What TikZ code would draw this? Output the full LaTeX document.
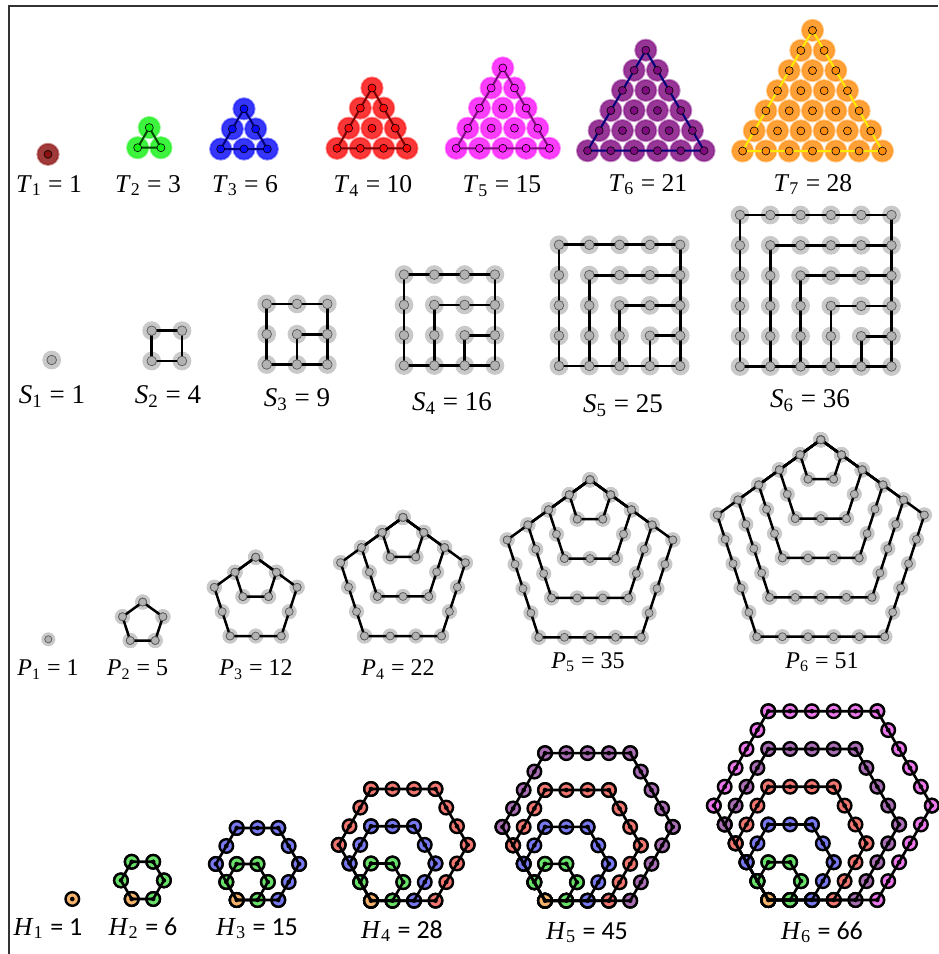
\documentclass[tikz,border=0pt]{standalone}
\usepackage{fontspec}
\setmainfont{Liberation Serif}
\newfontfamily\carlito{Carlito}
\definecolor{tmaroon}{RGB}{139,16,16}
\definecolor{tlime}{RGB}{20,240,20}
\definecolor{tforest}{RGB}{0,70,0}
\definecolor{tblue}{RGB}{10,10,250}
\definecolor{tnavy}{RGB}{0,0,120}
\definecolor{tred}{RGB}{250,10,10}
\definecolor{tdkred}{RGB}{120,0,0}
\definecolor{tmagenta}{RGB}{250,20,250}
\definecolor{tpurple}{RGB}{128,10,128}
\definecolor{torange}{RGB}{255,140,10}
\definecolor{tyellow}{RGB}{255,235,0}
\definecolor{hcA}{RGB}{244,178,106}
\definecolor{hcB}{RGB}{104,226,104}
\definecolor{hcC}{RGB}{120,120,240}
\definecolor{hcD}{RGB}{242,118,112}
\definecolor{hcE}{RGB}{170,110,180}
\definecolor{hcF}{RGB}{236,118,236}

\tikzset{
  tdisk/.style={fill=#1, fill opacity=0.82, draw=#1, draw opacity=0.45, line width=1pt},
  tdot/.style={fill=#1, draw=black, line width=0.3pt},
  tline/.style={draw=#1, line width=1pt},
  halo/.style={fill=black!21},
  gdot/.style={fill=black!30, draw=black!65, line width=0.35pt},
  gline/.style={draw=black, line width=1.4pt},
  hdot/.style={fill=#1, draw=black, line width=1.2pt},
  hline/.style={draw=black, line width=1.3pt},
  tlabel/.style={anchor=base, font=\fontsize{12.8}{15}\selectfont},
  slabel/.style={anchor=base, font=\fontsize{13.5}{16}\selectfont},
  plabel/.style={anchor=base, font=\fontsize{12}{14}\selectfont},
  hlabel/.style={anchor=base, font=\fontsize{13}{15}\selectfont},
}

% rows, centre x, bottom y, dot colour, edge colour
\newcommand{\figtri}[5]{%
  \foreach \r in {1,...,#1}
    \foreach \j in {1,...,\r}
      \path[tdisk=#4] ({#2+(\j-(\r+1)/2)*23.3},{#3-(#1-\r)*20.1}) circle (5.3pt);
  \ifnum#1>1
    \draw[tline=#5] ({#2-(#1-1)*11.65},#3) -- ({#2+(#1-1)*11.65},#3)
      -- (#2,{#3-(#1-1)*20.1}) -- cycle;
  \fi
  \foreach \r in {1,...,#1}
    \foreach \j in {1,...,\r}
      \path[tdot=#4] ({#2+(\j-(\r+1)/2)*23.3},{#3-(#1-\r)*20.1}) circle (2pt);
}

% side, left x, bottom y
\newcommand{\figsq}[3]{%
  \foreach \i in {1,...,#1}
    \foreach \j in {1,...,#1}
      \fill[halo] ({#2+(\i-1)*30.3},{#3-(#1-\j)*30.3}) circle (4.7pt);
  \ifnum#1>1
    \foreach \k in {1,...,#1}
      \draw[gline] ({#2+(#1-1)*30.3},{#3-(#1-\k)*30.3}) -| ({#2+(\k-1)*30.3},#3);
    \draw[gline] ({#2+(#1-1)*30.3},{#3-(#1-1)*30.3}) -- ({#2+(#1-1)*30.3},#3) -- (#2,#3);
  \fi
  \foreach \i in {1,...,#1}
    \foreach \j in {1,...,#1}
      \path[gdot] ({#2+(\i-1)*30.3},{#3-(#1-\j)*30.3}) circle (2.4pt);
}

% n, centre x, bottom y, spacing
\newcommand{\figpent}[4]{%
  \ifnum#1>1
    \pgfmathsetmacro\ptop{#3-1.5388*(#1-1)*#4}
    \pgfmathtruncatemacro\pmax{#1-1}
    \foreach \k in {1,...,\pmax}
      \foreach \vx/\vy/\dx/\dy in {0/0/0.809/0.5878, 0.809/0.5878/-0.309/0.951,
          0.5/1.5388/-1/0, -0.5/1.5388/-0.309/-0.951, -0.809/0.5878/0.809/-0.5878}
        \foreach \j in {0,...,\k}
          \fill[halo] ({#2+((\vx)*\k+(\dx)*\j)*#4},{\ptop+((\vy)*\k+(\dy)*\j)*#4}) circle (3.8pt);
    \foreach \k in {1,...,\pmax}
      \draw[gline, line width=1.25pt] (#2,\ptop) -- ++({0.809*\k*#4},{0.5878*\k*#4})
        -- ++({-0.309*\k*#4},{0.951*\k*#4}) -- ++({-\k*#4},0)
        -- ++({-0.309*\k*#4},{-0.951*\k*#4}) -- cycle;
    \foreach \k in {1,...,\pmax}
      \foreach \vx/\vy/\dx/\dy in {0/0/0.809/0.5878, 0.809/0.5878/-0.309/0.951,
          0.5/1.5388/-1/0, -0.5/1.5388/-0.309/-0.951, -0.809/0.5878/0.809/-0.5878}
        \foreach \j in {0,...,\k}
          \path[gdot] ({#2+((\vx)*\k+(\dx)*\j)*#4},{\ptop+((\vy)*\k+(\dy)*\j)*#4}) circle (2pt);
  \else
    \fill[halo] (#2,#3) circle (3.5pt);
    \path[gdot] (#2,#3) circle (1.8pt);
  \fi
}

% n, corner x, corner y, spacing
\newcommand{\fighex}[4]{%
  \ifnum#1>1
    \pgfmathtruncatemacro\hmax{#1-1}
    \foreach \i in {1,...,\hmax}{
      \pgfmathtruncatemacro\hk{#1-\i}
      \edef\hcol{hc\ifcase\hk A\or B\or C\or D\or E\or F\fi}
      \foreach \vx/\vy/\dx/\dy in {0/0/1/0, 1/0/0.5/-0.866, 1.5/-0.866/-0.5/-0.866,
          1/-1.732/-1/0, 0/-1.732/-0.5/0.866, -0.5/-0.866/0.5/0.866}
        \foreach \j in {0,...,\hk}{
          \path[hdot=\hcol] ({#2+((\vx)*\hk+(\dx)*\j)*#4},{#3+((\vy)*\hk+(\dy)*\j)*#4}) circle (3.4pt);
          \fill ({#2+((\vx)*\hk+(\dx)*\j)*#4},{#3+((\vy)*\hk+(\dy)*\j)*#4}) circle (1.15pt);
        }
    }
  \fi
  \path[hdot=hcA] (#2,#3) circle (3.4pt);
  \fill (#2,#3) circle (1.15pt);
  \ifnum#1>1
    \foreach \k in {1,...,\hmax}
      \draw[hline] (#2,#3) -- ++({\k*#4},0) -- ++({0.5*\k*#4},{-0.866*\k*#4})
        -- ++({-0.5*\k*#4},{-0.866*\k*#4}) -- ++({-\k*#4},0)
        -- ++({-0.5*\k*#4},{0.866*\k*#4}) -- cycle;
  \fi
}

\begin{document}
\begin{tikzpicture}[x=0.5pt,y=-0.5pt]
\useasboundingbox (0,0) rectangle (938,954);
\draw[line width=1pt,black!80] (9,954) -- (9,5.5) -- (938,5.5);

\figtri{1}{48}{154.3}{tmaroon}{tmaroon}
\figtri{2}{149.3}{147.7}{tlime}{tforest}
\figtri{3}{244}{149}{tblue}{tnavy}
\figtri{4}{372}{148.3}{tred}{tdkred}
\figtri{5}{502.8}{148.3}{tmagenta}{tpurple}
\figtri{6}{645.8}{150.7}{tpurple}{tnavy}
\figtri{7}{812.5}{151}{torange}{tyellow}
\node[tlabel] (t1) at (49,192) {\textit{T}\textsubscript{1} = 1};
\node[tlabel] (t2) at (148,192) {\textit{T}\textsubscript{2} = 3};
\node[tlabel] (t3) at (245,192) {\textit{T}\textsubscript{3} = 6};
\node[tlabel] (t4) at (373,192.5) {\textit{T}\textsubscript{4} = 10};
\node[tlabel] (t5) at (502,192.5) {\textit{T}\textsubscript{5} = 15};
\node[tlabel] (t6) at (648,191) {\textit{T}\textsubscript{6} = 21};
\node[tlabel] (t7) at (813,191) {\textit{T}\textsubscript{7} = 28};

\figsq{1}{51.7}{360}
\figsq{2}{151.7}{361}
\figsq{3}{266.7}{364.5}
\figsq{4}{404}{365.5}
\figsq{5}{559}{366}
\figsq{6}{740}{366.5}
\node[slabel] (s1) at (52,403) {\textit{S}\textsubscript{1} = 1};
\node[slabel] (s2) at (168,403) {\textit{S}\textsubscript{2} = 4};
\node[slabel] (s3) at (297,406) {\textit{S}\textsubscript{3} = 9};
\node[slabel] (s4) at (452,410) {\textit{S}\textsubscript{4} = 16};
\node[slabel] (s5) at (623,412) {\textit{S}\textsubscript{5} = 25};
\node[slabel] (s6) at (810,407) {\textit{S}\textsubscript{6} = 36};

\figpent{1}{48.3}{639.3}{25}
\figpent{2}{142.7}{640.5}{25}
\figpent{3}{255.7}{636}{25.6}
\figpent{4}{403}{636}{25.7}
\figpent{5}{590}{637.3}{25.6}
\figpent{6}{820.8}{636.7}{25.6}
\node[plabel] (p1) at (48,675.5) {\textit{P}\textsubscript{1} = 1};
\node[plabel] (p2) at (137.5,675.5) {\textit{P}\textsubscript{2} = 5};
\node[plabel] (p3) at (256,675.5) {\textit{P}\textsubscript{3} = 12};
\node[plabel] (p4) at (398,675.5) {\textit{P}\textsubscript{4} = 22};
\node[plabel] (p5) at (588,668) {\textit{P}\textsubscript{5} = 35};
\node[plabel] (p6) at (822,668) {\textit{P}\textsubscript{6} = 51};

\fighex{1}{72.3}{899}{21.5}
\fighex{2}{131.7}{899}{21.5}
\fighex{3}{236.7}{900}{20.8}
\fighex{4}{371}{900.7}{21.5}
\fighex{5}{545}{900.7}{21.3}
\fighex{6}{768.3}{900}{21.8}
\node[hlabel] (h1) at (48,935) {\textit{H}\textsubscript{1} {\carlito = 1}};
\node[hlabel] (h2) at (143,935) {\textit{H}\textsubscript{2} {\carlito = 6}};
\node[hlabel] (h3) at (257,935) {\textit{H}\textsubscript{3} {\carlito = 15}};
\node[hlabel] (h4) at (402,938) {\textit{H}\textsubscript{4} {\carlito = 28}};
\node[hlabel] (h5) at (587,939) {\textit{H}\textsubscript{5} {\carlito = 45}};
\node[hlabel] (h6) at (822,939) {\textit{H}\textsubscript{6} {\carlito = 66}};
\end{tikzpicture}
\end{document}
